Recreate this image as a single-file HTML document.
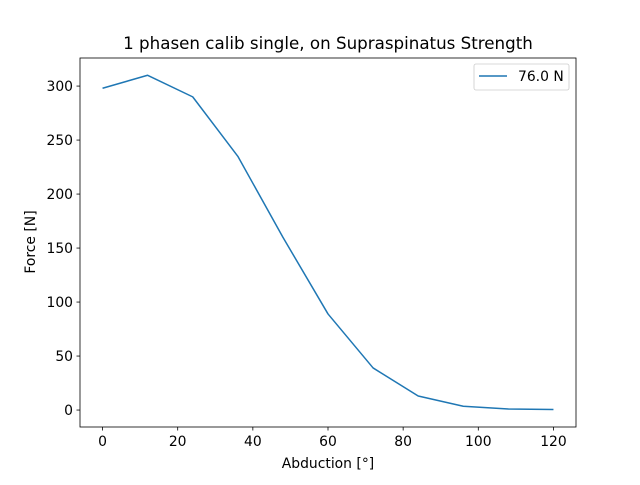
<!DOCTYPE html>
<html><head><meta charset="utf-8"><style>
body{margin:0;background:#fff;}
svg text{font-family:"DejaVu Sans","Liberation Sans",sans-serif;fill:#000;}
</style></head><body>
<svg width="640" height="480" xmlns="http://www.w3.org/2000/svg">
<rect width="640" height="480" fill="#fff"/>
<text x="328" y="49" font-size="16.7" text-anchor="middle">1 phasen calib single, on Supraspinatus Strength</text>
<g id="axes"></g>
<g id="series"></g>
<rect x="80" y="58" width="496" height="369" fill="none" stroke="#000" stroke-width="0.8"/>
<text x="328" y="468" font-size="13.9" text-anchor="middle">Abduction [°]</text>
<text transform="translate(35,242) rotate(-90)" font-size="13.9" text-anchor="middle">Force [N]</text>
<g>
<rect x="474" y="64" width="95" height="26" rx="2" fill="#fff" stroke="#ccc" stroke-width="0.8"/>
<line x1="479" y1="76" x2="507" y2="76" stroke="#1f77b4" stroke-width="1.5"/>
<text x="518" y="81" font-size="13.9">76.0 N</text>
</g>
</svg>
<script>
const xValues=[0,12,24,36,48,60,72,84,96,108,120];
const forceValues=[298,310,290,235,160,89,39,13,3.5,1,0.5];
const xTicks=[0,20,40,60,80,100,120];
const yTicks=[0,50,100,150,200,250,300];
const NS="http://www.w3.org/2000/svg";
function sx(v){return 80+(v+6)*(496/132);}
function sy(v){return 427-(v+15.7)*(369/341.7);}
const axes=document.getElementById('axes');
function mk(tag,attrs,parent){const e=document.createElementNS(NS,tag);for(const k in attrs)e.setAttribute(k,attrs[k]);parent.appendChild(e);return e;}
xTicks.forEach(t=>{
 const l=mk('line',{x1:sx(t),x2:sx(t),y1:427,y2:430.5,stroke:'#000','stroke-width':0.8},axes);
 
 
 const tx=mk('text',{x:sx(t),y:446,'font-size':13.9,'text-anchor':'middle'},axes);
 tx.textContent=t;
 
 
});
yTicks.forEach(t=>{
 const l=mk('line',{x1:76.5,x2:80,y1:sy(t),y2:sy(t),stroke:'#000','stroke-width':0.8},axes);
 
 
 const tx=mk('text',{x:73,y:sy(t)+5,'font-size':13.9,'text-anchor':'end'},axes);
 tx.textContent=t;
 
 
});
const pts=xValues.map((x,i)=>sx(x)+','+sy(forceValues[i])).join(' ');
const pl=mk('polyline',{points:pts,fill:'none',stroke:'#1f77b4','stroke-width':1.5,'stroke-linejoin':'round'},document.getElementById('series'));


</script>
</body></html>
